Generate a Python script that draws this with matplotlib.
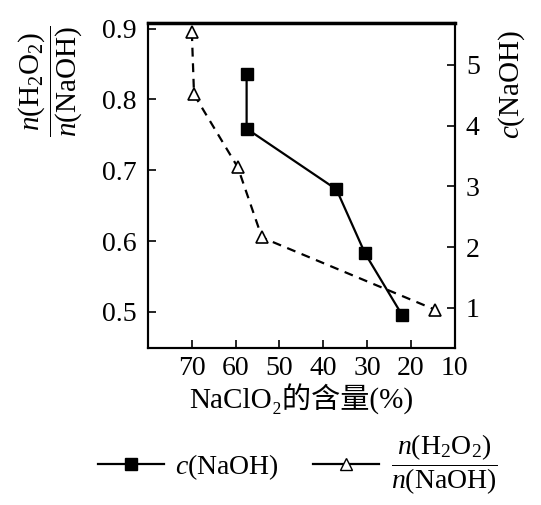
import matplotlib
matplotlib.use("Agg")
import matplotlib.pyplot as plt
from matplotlib.lines import Line2D

plt.rcParams['font.family'] = ['Liberation Serif', 'Noto Sans CJK SC']
plt.rcParams['mathtext.fontset'] = 'custom'
plt.rcParams['mathtext.rm'] = 'Liberation Serif'
plt.rcParams['mathtext.it'] = 'Liberation Serif:italic'

# data
ratio_x = [70, 69.5, 59.5, 54, 14.5]
ratio_y = [0.895, 0.807, 0.704, 0.605, 0.503]
naoh_x = [57.5, 57.5, 37, 30.5, 22]
naoh_y = [4.85, 3.95, 2.95, 1.9, 0.88]
x_ticks = [70, 60, 50, 40, 30, 20, 10]
left_ticks = [0.5, 0.6, 0.7, 0.8, 0.9]
right_ticks = [1, 2, 3, 4, 5]

frac = r'$\dfrac{n(\mathrm{H_2O_2})}{n(\mathrm{NaOH})}$'

fig = plt.figure(figsize=(5.41, 5.05), dpi=100)
ax = fig.add_axes([0.2736, 0.311, 0.567, 0.6435])
ax2 = ax.twinx()

ax.plot(ratio_x, ratio_y, color='black', ls='--', lw=1.6, marker='^', ms=8,
        mfc='white', mec='black', mew=1.2, dashes=(4, 3))
ax2.plot(naoh_x, naoh_y, color='black', ls='-', lw=1.6, marker='s', ms=8,
         mfc='black', mec='black')

ax.set_xlim(80, 10)
ax.set_ylim(0.449, 0.908)
ax2.set_ylim(0.34, 5.69)
ax.set_xticks(x_ticks)
ax.set_yticks(left_ticks)
ax2.set_yticks(right_ticks)
ax.set_yticklabels([f'{v:.1f}' for v in left_ticks])

for a in (ax, ax2):
    a.tick_params(direction='in', length=6, width=1.2, labelsize=20)
    for s in a.spines.values():
        s.set_linewidth(1.5)
ax.spines['top'].set_linewidth(2.5)
ax.tick_params(axis='x', pad=6)
ax.tick_params(axis='y', pad=8)
ax2.tick_params(axis='y', pad=8)

ax.set_xlabel('NaClO₂的含量(%)', fontsize=21, labelpad=2)
ax.set_ylabel(frac, fontsize=21)
ax.yaxis.set_label_coords(-0.21, 0.82)
ax2.set_ylabel(r'$c(\mathrm{NaOH})$', fontsize=21)
ax2.yaxis.set_label_coords(1.135, 0.81)

h1 = Line2D([], [], color='black', lw=1.6, marker='s', ms=8, mfc='black')
h2 = Line2D([], [], color='black', lw=1.6, marker='^', ms=8, mfc='white', mec='black')
fig.legend([h1, h2], [r'$c(\mathrm{NaOH})$', frac], loc='center',
           bbox_to_anchor=(0.55, 0.08), ncol=2, frameon=False, fontsize=20,
           handlelength=2.4, handletextpad=0.4, columnspacing=1.2)

fig.savefig('out.png', dpi=100)
